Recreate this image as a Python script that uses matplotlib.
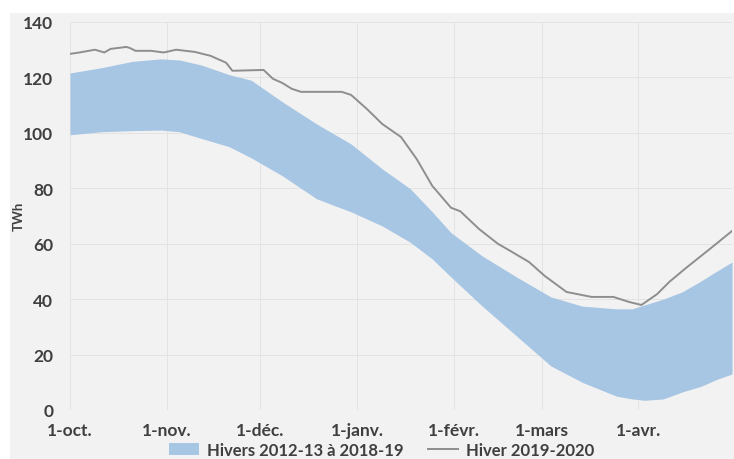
import matplotlib
matplotlib.use("Agg")
import matplotlib.pyplot as plt
from matplotlib.patches import Rectangle, Patch
from matplotlib.lines import Line2D

# band (winters 2012-13 to 2018-19), days since 1 Oct
band_days = [0, 10, 20, 29, 35, 42, 51, 58, 68, 79, 90, 100, 109, 116, 122,
             132, 143, 154, 164, 175, 180, 184, 190, 196, 202, 207, 212]
band_high = [121.6, 123.5, 125.8, 126.7, 126.3, 124.5, 121, 119, 111.2, 103.2,
             96, 87, 79.8, 71.5, 64, 55.6, 48, 40.8, 37.5, 36.5, 36.5, 37.9,
             40, 42.6, 46.5, 50, 53.4]
band_low = [99.3, 100.4, 100.8, 101, 100.4, 98, 95, 91, 84.5, 76.2, 71.5, 66.4,
            60.5, 54.5, 48, 37.5, 26.7, 15.9, 10, 5, 4, 3.5, 4, 6.5, 8.5, 11, 13]

# winter 2019-2020
line_days = [0, 3, 8, 11, 13, 18, 19, 21, 26, 30, 34, 40, 45, 50, 52, 62, 65,
             68, 71, 74, 87, 90, 95, 100, 106, 111, 116, 122, 125, 131, 137,
             141, 147, 152, 159, 167, 174, 179, 183, 188, 192, 197, 202, 207, 212]
line_vals = [128.5, 129, 130, 129, 130.3, 131, 130.7, 129.6, 129.6, 129, 130,
             129.2, 127.8, 125.3, 122.4, 122.7, 119.5, 118, 115.9, 114.8, 114.8,
             113.7, 108.7, 103.2, 98.5, 90.6, 80.9, 73, 71.7, 65.3, 60, 57.4,
             53.4, 48.4, 42.6, 40.8, 40.8, 39, 37.9, 41.8, 46.3, 51, 55.5, 60, 64.6]

month_days = [0, 31, 61, 92, 123, 151, 182]
month_labels = ["1-oct.", "1-nov.", "1-déc.", "1-janv.", "1-févr.", "1-mars", "1-avr."]
yticks = [0, 20, 40, 60, 80, 100, 120, 140]

txt = "#3f3f3f"
bg = "#f2f2f2"
blue = "#a7c6e4"
grey = "#8e8e8e"
font = ["Lato", "DejaVu Sans"]

fig = plt.figure(figsize=(7.34, 4.60), dpi=100, facecolor="white")
fig.patches.append(Rectangle((10 / 734, 0), 1, 1 - 14 / 460, transform=fig.transFigure,
                             facecolor=bg, edgecolor="none", zorder=-10))

ax = fig.add_axes([70 / 734, 1 - 411 / 460, 662 / 734, 388 / 460])
ax.set_facecolor("none")
ax.fill_between(band_days, band_low, band_high, color=blue, linewidth=0, zorder=2)
ax.plot(line_days, line_vals, color=grey, linewidth=1.4, zorder=3)

ax.set_xlim(0, 212)
ax.set_ylim(0, 140)
ax.set_xticks(month_days)
ax.set_xticklabels(month_labels)
ax.set_yticks(yticks)
ax.grid(True, color="#e3e3e3", linewidth=0.7, zorder=1)
ax.set_axisbelow(True)
for s in ax.spines.values():
    s.set_visible(False)
ax.tick_params(axis="both", length=0, colors=txt, labelsize=12.5)
ax.tick_params(axis="y", pad=12)
ax.tick_params(axis="x", pad=9)
for lab in ax.get_xticklabels() + ax.get_yticklabels():
    lab.set_fontweight("bold")
    lab.set_family(font)

fig.text(19 / 734, 1 - 216 / 460, "TWh", rotation=90, ha="center", va="center",
         color=txt, fontsize=9.5, fontweight="bold", family=font)

handles = [Patch(facecolor=blue, edgecolor="none", label="Hivers 2012-13 à 2018-19"),
           Line2D([0], [0], color=grey, linewidth=1.4, label="Hiver 2019-2020")]
leg = fig.legend(handles=handles, loc="center", bbox_to_anchor=(0.52, 0.02), ncol=2,
                 frameon=False, prop={"family": font, "size": 12, "weight": "bold"},
                 handlelength=1.8, columnspacing=1.5, handletextpad=0.45, borderpad=0.1)
for t in leg.get_texts():
    t.set_color(txt)

fig.savefig("out.png", dpi=100, facecolor="white")
